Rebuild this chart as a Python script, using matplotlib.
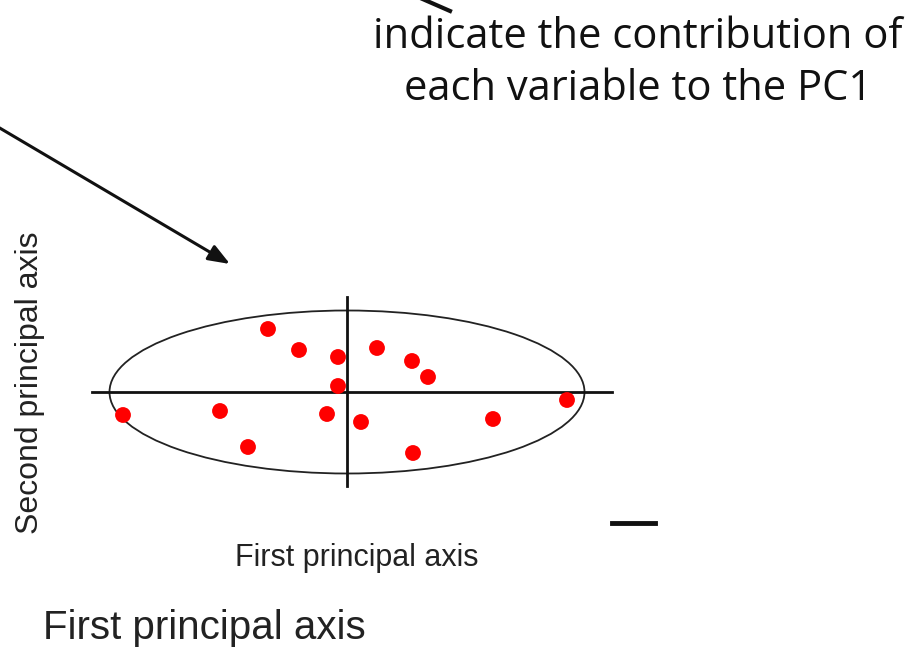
import matplotlib.pyplot as plt
from matplotlib.patches import Ellipse

# scores on the first and second principal axis (plot units, origin at axis crossing)
pc1 = [-79, -48, -9, 30, 65, 81, -9, -224, -127, -20, 14, -99, 66, 146, 220]
pc2 = [63, 42, 35, 44, 31, 15, 6, -23, -19, -22, -30, -55, -61, -27, -8]

origin = (347, 392)
ellipse_w, ellipse_h = 475, 163

top_text = "indicate the contribution of\neach variable to the PC1"
xlabel = "First principal axis"
ylabel = "Second principal axis"

if __name__ == '__main__':
    fig = plt.figure(figsize=(9.22, 6.49), dpi=100)
    ax = fig.add_axes([0, 0, 1, 1])
    ax.set_xlim(0, 922)
    ax.set_ylim(649, 0)
    ax.axis('off')

    ox, oy = origin
    ax.add_patch(Ellipse((ox, oy), ellipse_w, ellipse_h, fill=False,
                         edgecolor='#222222', lw=1.3))
    ax.plot([92, 612], [oy, oy], color='#111111', lw=2)
    ax.plot([ox, ox], [297, 486], color='#111111', lw=2)
    ax.scatter([ox + v for v in pc1], [oy - v for v in pc2],
               s=130, color='#ff0000', edgecolors='none', zorder=3)

    # annotation arrow and leftover line pieces from the slide
    ax.annotate('', xy=(230, 264), xytext=(-2, 127),
                arrowprops=dict(arrowstyle='-|>,head_length=1.3,head_width=0.5',
                                color='#111111', lw=2.2, shrinkA=0, shrinkB=0))
    ax.plot([418, 450], [-3, 11], color='#111111', lw=3)
    ax.plot([612, 655], [523, 523], color='#111111', lw=3.5)

    ax.text(638, 63, top_text, ha='center', va='center', fontsize=30,
            family='Open Sans', linespacing=1.3, color='#111111')
    ax.text(30, 383, ylabel, rotation=90, ha='center', va='center',
            fontsize=23, family='Liberation Sans', color='#222222')
    ax.text(357, 558, xlabel, ha='center', va='center',
            fontsize=22, family='Liberation Sans', color='#222222')
    ax.text(204, 628, xlabel, ha='center', va='center',
            fontsize=29, family='Liberation Sans', color='#222222')

    plt.savefig("out.png", dpi=100)
